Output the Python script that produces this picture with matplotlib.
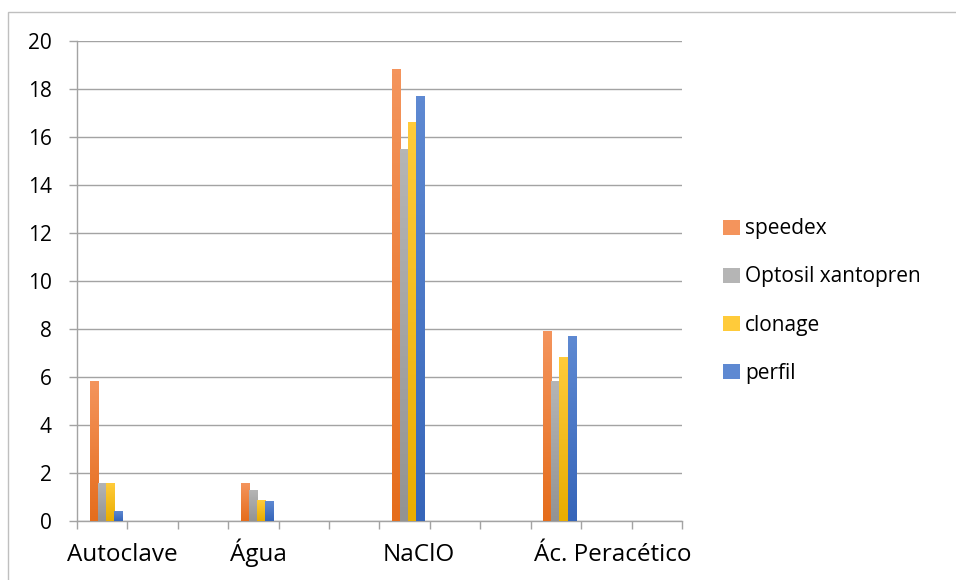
import numpy as np
import matplotlib.pyplot as plt
from matplotlib.colors import LinearSegmentedColormap
from matplotlib.patches import Patch, Rectangle

plt.rcParams['font.family'] = ['Open Sans', 'DejaVu Sans']

# dados
n_categorias = 12
posicoes = [0, 3, 6, 9]
tratamentos = ['Autoclave', 'Água', 'NaClO', 'Ác. Peracético']
speedex = [5.8, 1.55, 18.8, 7.9]
optosil = [1.55, 1.25, 15.5, 5.8]
clonage = [1.55, 0.85, 16.6, 6.8]
perfil = [0.4, 0.8, 17.7, 7.7]
series = ['speedex', 'Optosil xantopren', 'clonage', 'perfil']

# cores (topo, base) de cada série
cores = [('#F4945C', '#E56D1C'),
         ('#B5B5B5', '#939393'),
         ('#FFCB3A', '#E9AD00'),
         ('#5E89D2', '#3665B9')]
cor_grade = '#a3a3a3'

fig = plt.figure(figsize=(9.56, 5.8), dpi=100)
ax = fig.add_axes([77/956, 1-521/580, 605/956, 480/580])

largura = 0.16
desloc = 0.07
valores = [speedex, optosil, clonage, perfil]
for k, vals in enumerate(valores):
    cmap = LinearSegmentedColormap.from_list('g%d' % k, [cores[k][1], cores[k][0]])
    grad = np.linspace(0, 1, 64).reshape(-1, 1)
    for p, v in zip(posicoes, vals):
        x0 = p + desloc + (k - 2) * largura
        ax.imshow(grad, extent=(x0, x0 + largura, 0, v), origin='lower',
                  aspect='auto', cmap=cmap, zorder=3, interpolation='bilinear')

ax.set_xlim(-0.5, n_categorias - 0.5)
ax.set_ylim(0, 20)
ax.set_yticks(np.arange(0, 21, 2))
ax.yaxis.grid(True, color=cor_grade, lw=1)
ax.set_axisbelow(True)

for s in ['top', 'right']:
    ax.spines[s].set_visible(False)
for s in ['left', 'bottom']:
    ax.spines[s].set_color(cor_grade)
    ax.spines[s].set_linewidth(1)

ax.set_xticks(np.arange(-0.5, n_categorias, 1))
ax.set_xticklabels([])
ax.tick_params(axis='x', length=6, color=cor_grade, width=1)
ax.tick_params(axis='y', length=6, color=cor_grade, width=1, pad=12,
               labelsize=15, labelcolor='black')

# rótulos dos tratamentos
rotulo_x = [0.39, 3.09, 6.27, 10.13]
for x, t in zip(rotulo_x, tratamentos):
    ax.text(x, -0.0833, t, transform=ax.get_xaxis_transform(), ha='center',
            va='baseline', fontsize=17.5, clip_on=False)

handles = [Patch(facecolor=c[0], edgecolor='none') for c in cores]
fig.legend(handles, series, loc='center left', bbox_to_anchor=(704/956, 1-301/580),
           frameon=False, fontsize=15, handlelength=0.82, handleheight=0.72,
           handletextpad=0.25, labelspacing=1.3)

# moldura do gráfico
fig.patches.append(Rectangle((8/956, -0.01), 1.0, 1 - 12/580 + 0.01,
                             transform=fig.transFigure, fill=False,
                             edgecolor='#bfbfbf', lw=1))

fig.savefig('out.png', dpi=100)
